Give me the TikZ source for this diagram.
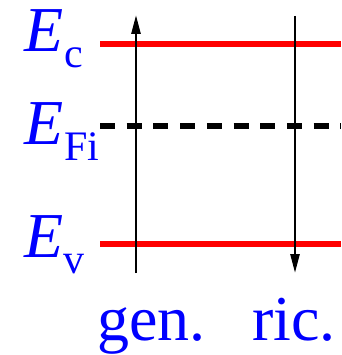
\documentclass[tikz,border=0pt]{standalone}
\usepackage{fontspec}
\setmainfont{Liberation Serif}
\usetikzlibrary{arrows.meta}
\begin{document}
\begin{tikzpicture}[x=1pt,y=-1pt,
  lbl/.style={text=blue,inner sep=0pt,anchor=base west,font=\rmfamily\fontsize{64}{64}\selectfont},
  level/.style={red,line width=6pt},
  fermi/.style={black,line width=6pt,dash pattern=on 15pt off 11.7pt},
  trans/.style={black,line width=2.6pt,-{Triangle[length=19pt,width=9pt]}}]
\useasboundingbox (0,0) rectangle (341,355);
\newcommand{\subtxt}[1]{\raisebox{-16pt}{\rmfamily\fontsize{42}{42}\selectfont #1}}
% labels
\node[lbl] (ec) at (24,52) {\textit{E}\kern1pt\subtxt{c}};
\node[lbl] (efi) at (24,145) {\textit{E}\kern1pt\subtxt{Fi}};
\node[lbl] (ev) at (24,257) {\textit{E}\kern0pt\subtxt{v}};
\node[lbl] (gen) at (97,340) {gen.};
\node[lbl] (ric) at (252,340) {ric.};
% levels
\coordinate (ecL) at (100,43.7); \coordinate (ecR) at (341,43.7);
\coordinate (efL) at (100,126); \coordinate (efR) at (341,126);
\coordinate (evL) at (100,244); \coordinate (evR) at (341,244);
\draw[level] (ecL) -- (ecR);
\draw[fermi] (efL) -- (efR);
\draw[level] (evL) -- (evR);
% transitions
\coordinate (g0) at (136,273); \coordinate (g1) at (136,15);
\coordinate (r0) at (295,16); \coordinate (r1) at (295,273);
\draw[trans] (g0) -- (g1);
\draw[trans] (r0) -- (r1);
\end{tikzpicture}
\end{document}
